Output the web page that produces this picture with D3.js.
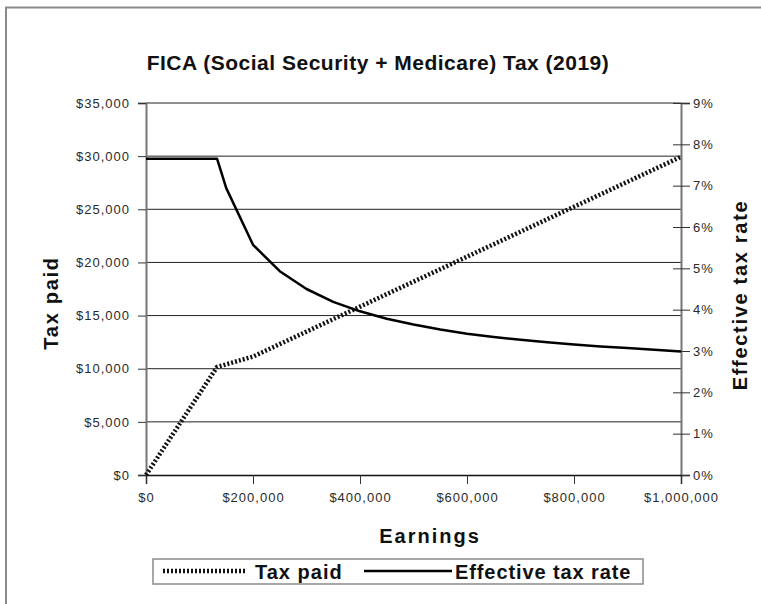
<!DOCTYPE html>
<html>
<head>
<meta charset="utf-8">
<script src="https://cdn.jsdelivr.net/npm/d3@7"></script>
<style>
  body { margin: 0; background: #fff; }
  svg { display: block; font-family: "Liberation Sans", Arial, sans-serif; }
</style>
</head>
<body>
<div class="chart"></div>
<script>
// earnings points and FICA tax (2019)
var earnings = [0, 50000, 100000, 132900, 150000, 200000, 250000, 300000, 350000, 400000,
  450000, 500000, 550000, 600000, 650000, 700000, 750000, 800000, 850000, 900000, 950000, 1000000];
var taxPaid = [0, 3825, 7650, 10167, 10415, 11140, 12315, 13490, 14665, 15840,
  17015, 18190, 19365, 20540, 21715, 22890, 24065, 25240, 26415, 27590, 28765, 29940];
var effectiveRate = [7.65, 7.65, 7.65, 7.65, 6.94, 5.57, 4.93, 4.50, 4.19, 3.96,
  3.78, 3.64, 3.52, 3.42, 3.34, 3.27, 3.21, 3.16, 3.11, 3.07, 3.03, 2.99];

var earningsTicks = [0, 200000, 400000, 600000, 800000, 1000000];
var taxTicks = [0, 5000, 10000, 15000, 20000, 25000, 30000, 35000];
var rateTicks = [0, 1, 2, 3, 4, 5, 6, 7, 8, 9];

var width = 761, height = 604;
var plotLeft = 146, plotRight = 681, plotTop = 103, plotBottom = 475;

var svg = d3.select(".chart")
  .append("svg")
    .attr("width", width)
    .attr("height", height);

// outer frame (only left and top edges show)
svg.append("rect")
  .attr("x", 6)
  .attr("y", 7.5)
  .attr("width", 800)
  .attr("height", 700)
  .attr("fill", "none")
  .attr("stroke", "#8a8a8a")
  .attr("stroke-width", 2);

var x = d3.scaleLinear().domain([0, 1000000]).range([plotLeft, plotRight]);
var yTax = d3.scaleLinear().domain([0, 35000]).range([plotBottom, plotTop]);
var yRate = d3.scaleLinear().domain([0, 9]).range([plotBottom, plotTop]);

// gridlines
svg.append("g")
  .selectAll("line")
  .data(taxTicks.slice(1))
  .join("line")
    .attr("x1", plotLeft)
    .attr("x2", plotRight)
    .attr("y1", function(d) { return yTax(d); })
    .attr("y2", function(d) { return yTax(d); })
    .attr("stroke", "#222")
    .attr("stroke-width", 1);

var money = d3.format(",");

var axisL = svg.append("g")
  .attr("transform", "translate(" + plotLeft + ",0)")
  .call(d3.axisLeft(yTax).tickValues(taxTicks).tickSize(8).tickPadding(8)
    .tickFormat(function(d) { return "$" + money(d); }));

var axisR = svg.append("g")
  .attr("transform", "translate(" + plotRight + ",0)")
  .call(d3.axisRight(yRate).tickValues(rateTicks).tickSize(9).tickPadding(3)
    .tickFormat(function(d) { return d + "%"; }));
axisR.selectAll(".tick line").attr("x1", -8);

var axisB = svg.append("g")
  .attr("transform", "translate(0," + plotBottom + ")")
  .call(d3.axisBottom(x).tickValues(earningsTicks).tickSize(9).tickPadding(9)
    .tickFormat(function(d) { return "$" + money(d); }));

[axisL, axisR, axisB].forEach(function(a) {
  a.selectAll(".tick line").attr("stroke", "#333").attr("stroke-width", 1);
  a.selectAll(".tick text")
    .attr("fill", "#2a2a2a")
    .style("font-size", "13px")
    .style("letter-spacing", "1px");
});
axisL.select(".domain").attr("stroke", "#777").attr("stroke-width", 2);
axisR.select(".domain").attr("stroke", "#777").attr("stroke-width", 2);
axisB.select(".domain").attr("stroke", "#111").attr("stroke-width", 1.5);

// series
var taxLine = d3.line()
  .x(function(d, i) { return x(earnings[i]); })
  .y(function(d) { return yTax(d); });
var rateLine = d3.line()
  .x(function(d, i) { return x(earnings[i]); })
  .y(function(d) { return yRate(d); });

svg.append("path")
  .attr("d", taxLine(taxPaid))
  .attr("fill", "none")
  .attr("stroke", "#111")
  .attr("stroke-width", 4.5)
  .attr("stroke-dasharray", "2,2");

svg.append("path")
  .attr("d", rateLine(effectiveRate))
  .attr("fill", "none")
  .attr("stroke", "#000")
  .attr("stroke-width", 2.5)
  .attr("stroke-linejoin", "round");

// titles
svg.append("text")
  .attr("x", 378)
  .attr("y", 70)
  .attr("text-anchor", "middle")
  .attr("fill", "#111")
  .style("font-size", "21px")
  .style("font-weight", "bold")
  .style("letter-spacing", "0.5px")
  .text("FICA (Social Security + Medicare) Tax (2019)");

svg.append("text")
  .attr("x", 430)
  .attr("y", 543)
  .attr("text-anchor", "middle")
  .attr("fill", "#111")
  .style("font-size", "20px")
  .style("font-weight", "bold")
  .style("letter-spacing", "2px")
  .text("Earnings");

svg.append("text")
  .attr("transform", "translate(58,303) rotate(-90)")
  .attr("text-anchor", "middle")
  .attr("fill", "#111")
  .style("font-size", "20px")
  .style("font-weight", "bold")
  .style("letter-spacing", "1.7px")
  .text("Tax paid");

svg.append("text")
  .attr("transform", "translate(747,295) rotate(-90)")
  .attr("text-anchor", "middle")
  .attr("fill", "#111")
  .style("font-size", "20px")
  .style("font-weight", "bold")
  .style("letter-spacing", "1.7px")
  .text("Effective tax rate");

// legend
var legend = svg.append("g");
legend.append("rect")
  .attr("x", 153)
  .attr("y", 559)
  .attr("width", 490)
  .attr("height", 25)
  .attr("fill", "#fff")
  .attr("stroke", "#8a8a8a")
  .attr("stroke-width", 1.5);

legend.append("line")
  .attr("x1", 163)
  .attr("y1", 571)
  .attr("x2", 247)
  .attr("y2", 571)
  .attr("stroke", "#111")
  .attr("stroke-width", 4.5)
  .attr("stroke-dasharray", "2,2");
legend.append("text")
  .attr("x", 255)
  .attr("y", 579)
  .attr("fill", "#111")
  .style("font-size", "20px")
  .style("font-weight", "bold")
  .style("letter-spacing", "1px")
  .text("Tax paid");

legend.append("line")
  .attr("x1", 364)
  .attr("y1", 571)
  .attr("x2", 452)
  .attr("y2", 571)
  .attr("stroke", "#000")
  .attr("stroke-width", 2.5);
legend.append("text")
  .attr("x", 455)
  .attr("y", 579)
  .attr("fill", "#111")
  .style("font-size", "20px")
  .style("font-weight", "bold")
  .style("letter-spacing", "0.9px")
  .text("Effective tax rate");
</script>
</body>
</html>
